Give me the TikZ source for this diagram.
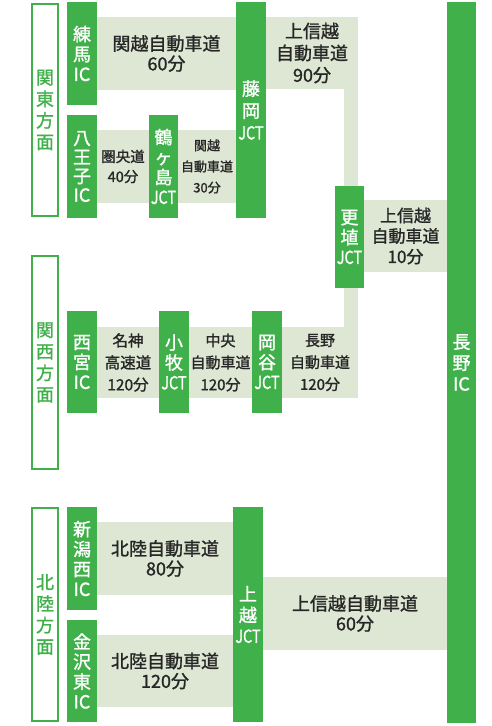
\documentclass[tikz,border=0pt]{standalone}
\usepackage{fontspec}
\setmainfont{Noto Sans CJK JP}[FakeBold=1.3]
\usepackage{graphicx}
\definecolor{roadgreen}{RGB}{64,176,74}
\definecolor{roadpale}{RGB}{221,231,211}
\newcommand{\jct}{\scalebox{0.8}[1]{JCT}}
\newcommand{\fsz}[2]{\fontsize{#1}{#2}\selectfont}

\begin{document}
\begin{tikzpicture}[x=1pt,y=-1pt,
  icbox/.style={fill=roadgreen,text=white,minimum width=30pt,inner sep=0pt,align=center,font=\fsz{18}{20}},
  areabox/.style={draw=roadgreen,line width=2pt,fill=white,text=roadgreen,minimum width=26pt,inner sep=0pt,align=center,font=\fsz{18}{21.5}},
  road/.style={fill=roadpale,text=black!85,inner sep=0pt,align=center,font=\fsz{18}{20}}]
\useasboundingbox (0,0) rectangle (491,726);

% roads
\node[road,minimum width=139pt,minimum height=73pt] (kanetsuA) at (166.5,53.5) {関越自動車道\\60分};
\node[road,minimum width=52pt,minimum height=73pt,font=\fsz{14.5}{20}] (kenodo) at (123,166.5) {圏央道\\40分};
\node[road,minimum width=58pt,minimum height=73pt,font=\fsz{13}{21}] (kanetsuB) at (207,166.5) {関越\\自動車道\\30分};
\node[road,minimum width=92pt,minimum height=72pt,font=\fsz{18}{22}] (jsA) at (312,53) {上信越\\自動車道\\90分};
\node[road,minimum width=83pt,minimum height=72pt,font=\fsz{17}{20.5}] (jsB) at (405.5,236) {上信越\\自動車道\\10分};
\node[road,minimum width=62pt,minimum height=71pt,font=\fsz{15.5}{22}] (meishin) at (128,362.5) {名神\\高速道\\120分};
\node[road,minimum width=63pt,minimum height=71pt,font=\fsz{15}{22}] (chuo) at (220.5,362.5) {中央\\自動車道\\120分};
\node[road,minimum width=76pt,minimum height=71pt,font=\fsz{15}{22}] (naganodo) at (320,362.5) {長野\\自動車道\\120分};
\node[road,minimum width=136pt,minimum height=73pt] (hokurikuA) at (165,558.5) {北陸自動車道\\80分};
\node[road,minimum width=136pt,minimum height=72pt] (hokurikuB) at (165,671) {北陸自動車道\\120分};
\node[road,minimum width=184pt,minimum height=73pt] (jsC) at (355,613.5) {上信越自動車道\\60分};

% interchanges and junctions
\node[icbox,minimum height=103pt] (nerima) at (82,53.5) {練\\馬\\IC};
\node[icbox,minimum height=103pt,font=\fsz{18}{19}] (hachioji) at (82,166.5) {八\\王\\子\\IC};
\node[icbox,minimum width=29pt,minimum height=103pt] (tsurugashima) at (163.5,166.5) {鶴\\ヶ\\島\\\jct};
\node[icbox,minimum height=216pt,font=\fsz{18}{22}] (fujioka) at (251,110) {藤\\岡\\\jct};
\node[icbox,minimum width=29pt,minimum height=102pt] (kohshoku) at (349.5,237) {更\\埴\\\jct};
\node[icbox,minimum width=29pt,minimum height=721pt,font=\fsz{18}{21}] (naganoic) at (461.5,362.5) {長\\野\\IC};
\node[icbox,minimum height=102pt] (nishinomiya) at (82,362) {西\\宮\\IC};
\node[icbox,minimum height=102pt] (komaki) at (174,362) {小\\牧\\\jct};
\node[icbox,minimum height=102pt] (okaya) at (267,362) {岡\\谷\\\jct};
\node[icbox,minimum height=103pt] (niigatanishi) at (82,558.5) {新\\潟\\西\\IC};
\node[icbox,minimum height=102pt] (kanazawahigashi) at (82,671) {金\\沢\\東\\IC};
\node[icbox,minimum height=215pt,font=\fsz{18}{21}] (joetsu) at (248,614.5) {上\\越\\\jct};

% links down to the Nagano line
\fill[roadpale] ([xshift=-14pt]jsA.south east) rectangle (jsA.east |- kohshoku.north);
\fill[roadpale] ([xshift=-14pt]naganodo.north east) rectangle (naganodo.east |- kohshoku.south);

% areas
\node[areabox,minimum height=212pt] (kanto) at (45,110) {関\\東\\方\\面};
\node[areabox,minimum height=213pt] (kansai) at (45,362.5) {関\\西\\方\\面};
\node[areabox,minimum height=213pt] (hokuriku) at (45,614.5) {北\\陸\\方\\面};
\end{tikzpicture}
\end{document}
